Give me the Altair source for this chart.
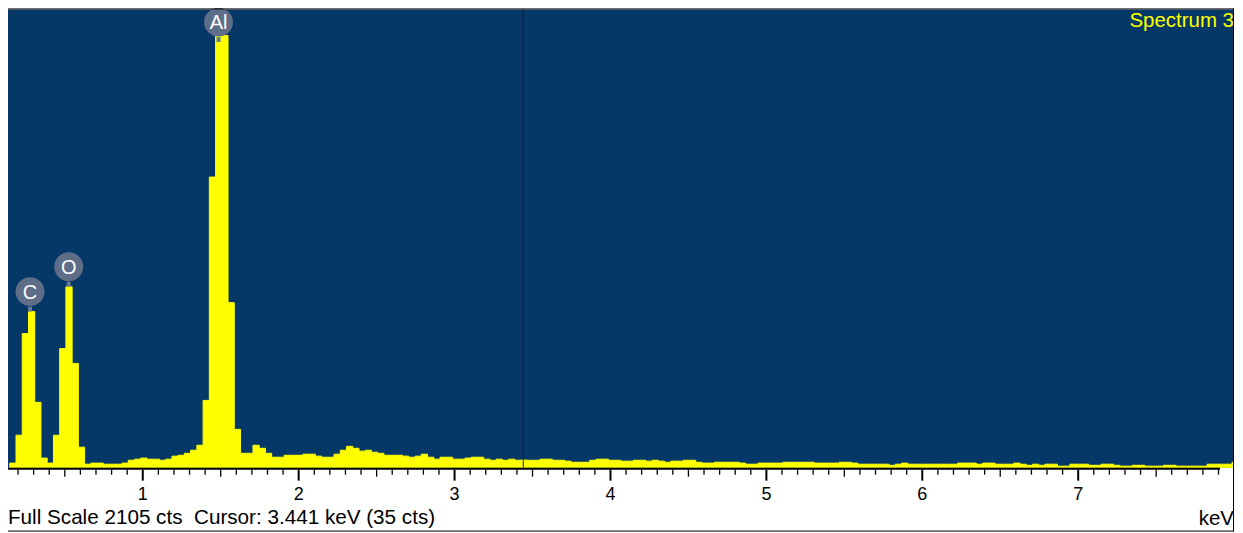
import altair as alt
import pandas as pd

# ---------------- data ----------------
E0 = 0.147          # keV, start of first channel group
BIN_W = 0.04        # keV per displayed channel
counts = [
    21, 149, 616, 717, 300, 44, 21, 149, 547, 831,
    479, 94, 16, 21, 21, 16, 16, 16, 21, 34,
    39, 44, 39, 39, 34, 39, 53, 57, 66, 80,
    103, 309, 1335, 1985, 1985, 758, 176, 66, 66, 103,
    89, 66, 48, 48, 57, 57, 57, 62, 62, 53,
    48, 48, 62, 80, 98, 89, 76, 80, 71, 66,
    57, 57, 57, 53, 48, 53, 62, 48, 39, 48,
    48, 39, 39, 44, 48, 48, 39, 34, 39, 34,
    39, 34, 35, 34, 34, 39, 39, 34, 34, 30,
    25, 25, 25, 34, 39, 39, 34, 34, 30, 30,
    34, 34, 30, 34, 30, 25, 30, 30, 34, 34,
    25, 21, 21, 25, 25, 25, 25, 21, 16, 16,
    21, 21, 21, 21, 25, 25, 25, 25, 25, 21,
    21, 21, 21, 25, 25, 21, 16, 16, 16, 16,
    16, 11, 16, 21, 16, 16, 16, 16, 16, 16,
    16, 16, 21, 21, 21, 16, 21, 21, 16, 16,
    16, 21, 16, 11, 16, 11, 16, 16, 7, 7,
    16, 16, 16, 11, 11, 16, 16, 11, 7, 7,
    11, 11, 7, 7, 7, 11, 11, 7, 7, 7,
    7, 7, 16, 16, 16, 16, 25,
]
energy_start = [round(E0 + i * BIN_W, 3) for i in range(len(counts))]
energy_end = [round(s + BIN_W, 3) for s in energy_start]

elements = ["C", "O", "Al"]
element_kev = [0.277, 0.525, 1.486]
element_anchor = [717, 831, 1955]

full_scale = 2105
cursor_kev = 3.441
cursor_counts = 35
spectrum_name = "Spectrum 3"
unit_label = "keV"

major_ticks = [1, 2, 3, 4, 5, 6, 7]
half_ticks = [round(0.1 * k, 1) for k in range(5, 80, 10)]
minor_ticks = [round(0.1 * k, 1) for k in range(2, 80) if k % 5 != 0]

# ---------------- styling ----------------
FONT = "Liberation Sans"
BLUE = "#053767"
YELLOW = "#FFFF00"
W, H = 1227, 459

xs = alt.Scale(domain=[0.1356, 7.993], nice=False, zero=False)
ys = alt.Scale(domain=[0, full_scale], nice=False)

spec_df = pd.DataFrame({"start": energy_start, "end": energy_end, "count": counts, "base": 0})
el_df = pd.DataFrame({"el": elements, "kev": element_kev, "anchor": element_anchor})
dummy = pd.DataFrame({"d": [0]})

bars = alt.Chart(spec_df).mark_rect(color=YELLOW, clip=True, stroke=YELLOW, strokeWidth=1).encode(
    x=alt.X("start:Q", scale=xs, axis=None),
    x2="end:Q",
    y=alt.Y("count:Q", scale=ys, axis=None),
    y2="base:Q",
)

cursor = alt.Chart(pd.DataFrame({"kev": [cursor_kev]})).mark_rule(color="#1e1e1e", strokeWidth=1).encode(
    x=alt.X("kev:Q", scale=xs, axis=None), y=alt.value(0), y2=alt.value(H)
)

axis_line = alt.Chart(pd.DataFrame({"a": [0.1356], "b": [7.91]})).mark_rule(color="black", strokeWidth=2).encode(
    x=alt.X("a:Q", scale=xs, axis=None), x2="b:Q", y=alt.value(H + 1)
)

minor = alt.Chart(pd.DataFrame({"t": minor_ticks})).mark_rule(color="black", strokeWidth=1.3).encode(
    x=alt.X("t:Q", scale=xs, axis=None), y=alt.value(H + 2), y2=alt.value(H + 7)
)
half = alt.Chart(pd.DataFrame({"t": half_ticks})).mark_rule(color="black", strokeWidth=1.3).encode(
    x=alt.X("t:Q", scale=xs, axis=None), y=alt.value(H + 2), y2=alt.value(H + 9)
)
major = alt.Chart(pd.DataFrame({"t": major_ticks})).mark_rule(color="black", strokeWidth=2).encode(
    x=alt.X("t:Q", scale=xs, axis=None), y=alt.value(H + 2), y2=alt.value(H + 13)
)
major_labels = alt.Chart(pd.DataFrame({"t": major_ticks})).mark_text(
    font=FONT, fontSize=18, color="black", baseline="alphabetic", align="center"
).encode(x=alt.X("t:Q", scale=xs, axis=None), y=alt.value(H + 32), text=alt.Text("t:Q", format="d"))

markers = alt.Chart(el_df).mark_rule(color="#6c7a92", strokeWidth=4, y2Offset=-5).encode(
    x=alt.X("kev:Q", scale=xs, axis=None), y=alt.Y("anchor:Q", scale=ys, axis=None), y2="anchor:Q"
)
circles = alt.Chart(el_df).mark_circle(size=840, color="#5f6e88", opacity=1, yOffset=-20).encode(
    x=alt.X("kev:Q", scale=xs, axis=None), y=alt.Y("anchor:Q", scale=ys, axis=None)
)
el_text = alt.Chart(el_df).mark_text(font=FONT, fontSize=20, color="white", baseline="middle", yOffset=-19).encode(
    x=alt.X("kev:Q", scale=xs, axis=None), y=alt.Y("anchor:Q", scale=ys, axis=None), text="el:N"
)

spec_title = alt.Chart(dummy).mark_text(
    text=spectrum_name, font=FONT, fontSize=20.5, color=YELLOW, align="right", baseline="alphabetic"
).encode(x=alt.value(W + 1), y=alt.value(18))

caption = alt.Chart(dummy).mark_text(
    text=f"Full Scale {full_scale} cts\u00a0\u00a0Cursor: {cursor_kev} keV ({cursor_counts} cts)",
    font=FONT, fontSize=20.7, color="black", align="left", baseline="alphabetic"
).encode(x=alt.value(0), y=alt.value(H + 56))

unit = alt.Chart(dummy).mark_text(
    text=unit_label, font=FONT, fontSize=20.5, color="black", align="right", baseline="alphabetic"
).encode(x=alt.value(W + 1), y=alt.value(H + 57))

frame_top = alt.Chart(dummy).mark_rule(color="black", strokeWidth=1).encode(
    x=alt.value(0), x2=alt.value(W + 1), y=alt.value(-0.5)
)
frame_right = alt.Chart(dummy).mark_rule(color="black", strokeWidth=1).encode(
    x=alt.value(W + 0.5), y=alt.value(-1), y2=alt.value(H + 64)
)
frame_bottom = alt.Chart(dummy).mark_rule(color="black", strokeWidth=1).encode(
    x=alt.value(0), x2=alt.value(W + 1), y=alt.value(H + 63.5)
)

chart = alt.layer(
    bars, cursor, axis_line, minor, half, major, major_labels,
    markers, circles, el_text, spec_title, caption, unit,
    frame_top, frame_right, frame_bottom,
).properties(
    width=W, height=H,
    autosize=alt.AutoSizeParams(type="none"),
    padding={"left": 0, "top": 1, "right": 2, "bottom": 65},
).configure_view(stroke=None, fill=BLUE)

chart.save("out.html", embed_options={"renderer": "svg", "actions": False})
